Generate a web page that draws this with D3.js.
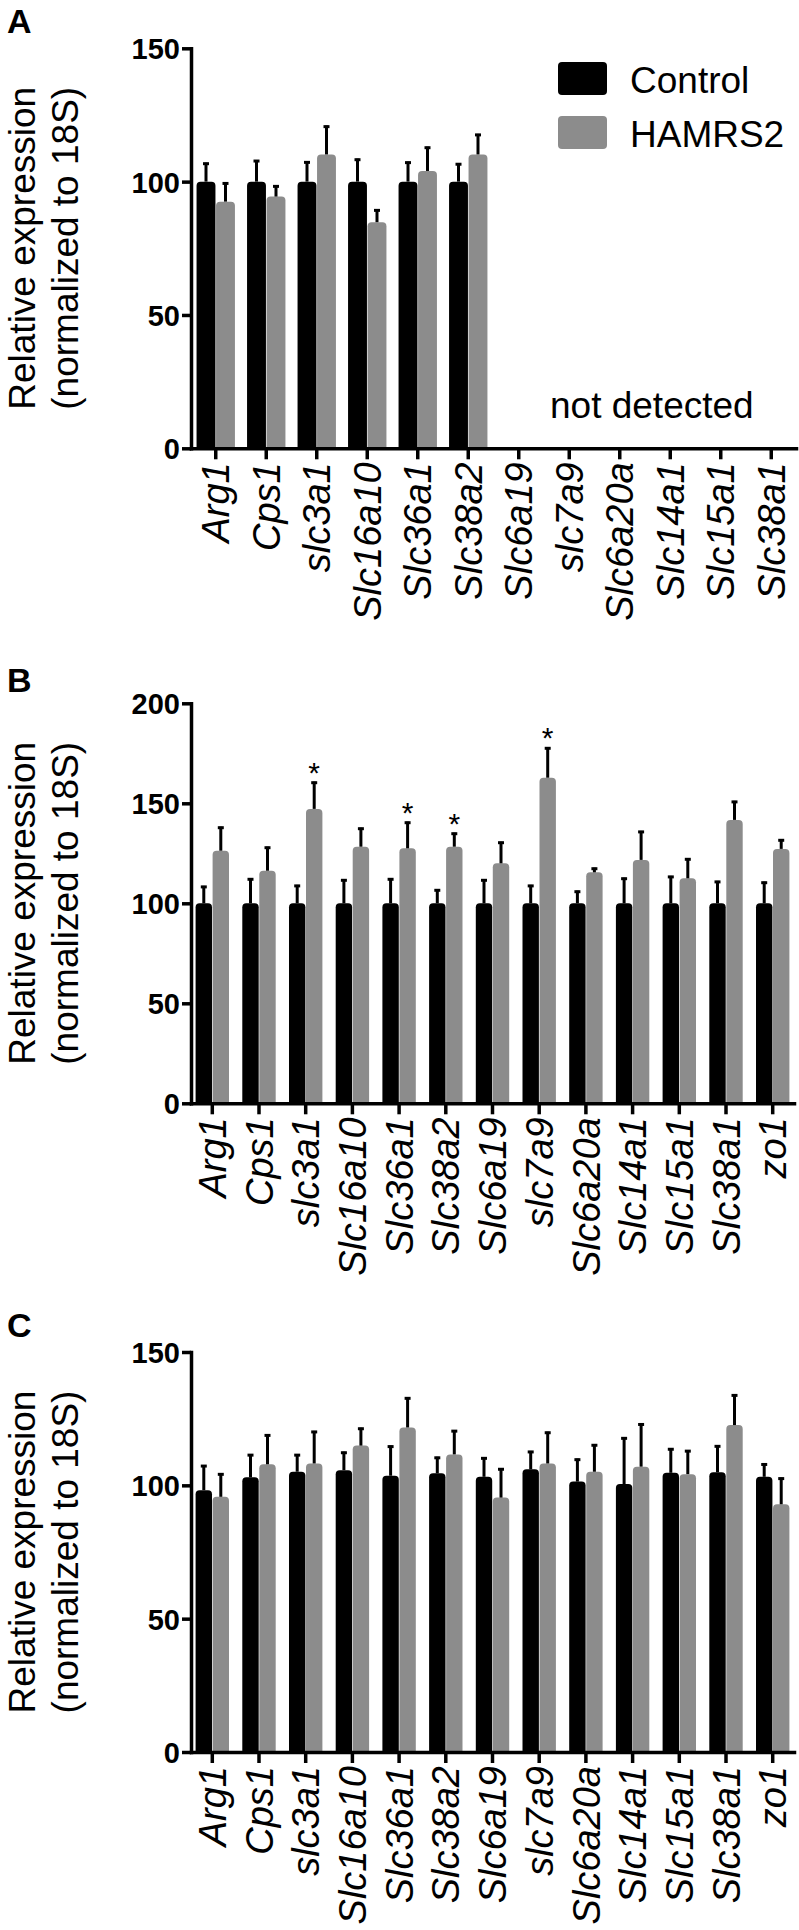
<!DOCTYPE html>
<html>
<head>
<meta charset="utf-8">
<script src="https://cdn.jsdelivr.net/npm/d3@7"></script>
<style>
  html, body { margin: 0; padding: 0; background: #fff; }
  svg { display: block; }
  text { font-family: "Liberation Sans", Arial, Helvetica, sans-serif; fill: #000; }
</style>
</head>
<body>
<svg id="chart" width="799" height="1930"></svg>
<script>
// ---------- DATA ----------
const seriesNames = ["Control", "HAMRS2"];

const catsA = ["Arg1", "Cps1", "slc3a1", "Slc16a10", "Slc36a1", "Slc38a2", "Slc6a19", "slc7a9", "Slc6a20a", "Slc14a1", "Slc15a1", "Slc38a1"];
const ctrlA    = [100, 100, 100, 100, 100, 100, null, null, null, null, null, null];
const ctrlErrA = [7.1, 8.1, 7.6, 8.6, 7.5, 6.9, null, null, null, null, null, null];
const hamA     = [92.5, 94.4, 110.2, 84.8, 104.0, 110.2, null, null, null, null, null, null];
const hamErrA  = [7.2, 4.2, 10.8, 4.8, 9.1, 7.7, null, null, null, null, null, null];
const ticksA = [0, 50, 100, 150];

const catsBC = ["Arg1", "Cps1", "slc3a1", "Slc16a10", "Slc36a1", "Slc38a2", "Slc6a19", "slc7a9", "Slc6a20a", "Slc14a1", "Slc15a1", "Slc38a1", "zo1"];
const ctrlB    = [100, 100, 100, 100, 100, 100, 100, 100, 100, 100, 100, 100, 100];
const ctrlErrB = [8.7, 12.5, 9.2, 12.0, 12.5, 7.0, 12.0, 9.2, 6.3, 12.8, 13.7, 11.2, 10.8];
const hamB     = [126.3, 116.3, 147.2, 128.3, 127.5, 128.3, 120.0, 162.8, 115.5, 121.7, 112.5, 141.7, 127.2];
const hamErrB  = [12.0, 12.0, 13.6, 9.5, 13.3, 7.0, 10.8, 15.2, 2.3, 14.5, 10.0, 9.5, 4.8];
const starB    = ["slc3a1", "Slc36a1", "Slc38a2", "slc7a9"];
const ticksB = [0, 50, 100, 150, 200];

const ctrlC    = [98.2, 103.0, 105.1, 105.7, 103.6, 104.5, 103.2, 106.0, 101.4, 100.5, 104.7, 104.9, 103.2];
const ctrlErrC = [9.4, 8.7, 6.6, 6.9, 11.3, 6.2, 7.3, 6.9, 8.6, 17.5, 9.2, 10.1, 5.0];
const hamC     = [95.7, 107.9, 108.2, 114.9, 121.7, 111.6, 95.4, 108.2, 105.1, 107.0, 104.2, 122.6, 92.9];
const hamErrC  = [8.8, 11.2, 12.2, 6.7, 11.3, 9.1, 11.0, 11.9, 10.3, 16.2, 9.0, 11.5, 10.0];
const ticksC = [0, 50, 100, 150];

const yTitle1 = "Relative expression";
const yTitle2 = "(normalized to 18S)";
const notDetectedText = "not detected";

// ---------- STYLE ----------
const colors = { Control: "#000000", HAMRS2: "#8c8c8c" };
const svg = d3.select("#chart");
svg.append("rect").attr("width", 799).attr("height", 1930).attr("fill", "#fff");

const AXIS_X = 191;
const AXIS_W = 3.5;

function barPath(x, y, w, h, r) {
  r = Math.min(r, w / 2, h);
  return `M${x},${y + h}V${y + r}Q${x},${y} ${x + r},${y}H${x + w - r}Q${x + w},${y} ${x + w},${y + r}V${y + h}Z`;
}

function drawPanel(p) {
  const g = svg.append("g");
  const y = d3.scaleLinear().domain(p.yDomain).range([p.yBot, p.yTop]);
  const x0 = d3.scaleBand().domain(p.cats).range([AXIS_X, p.xEnd])
    .paddingInner(p.padInner).paddingOuter(p.padOuter);
  const x1 = d3.scaleBand().domain(seriesNames).range([0, x0.bandwidth()]).padding(0);

  // rows
  const rows = p.cats.map((c, i) => ({
    cat: c,
    vals: [
      { s: "Control", v: p.ctrl[i], e: p.ctrlErr[i] },
      { s: "HAMRS2", v: p.ham[i], e: p.hamErr[i] }
    ].filter(d => d.v != null)
  }));

  const grp = g.selectAll(".grp").data(rows).join("g")
    .attr("transform", d => `translate(${x0(d.cat)},0)`);

  grp.selectAll("path.bar").data(d => d.vals).join("path")
    .attr("class", "bar")
    .attr("fill", d => colors[d.s])
    .attr("d", d => barPath(x1(d.s) + 0.3, y(d.v), x1.bandwidth() - 0.6, y(0) - y(d.v), 4));

  // error bars
  grp.selectAll("line.err").data(d => d.vals).join("line")
    .attr("class", "err")
    .attr("x1", d => x1(d.s) + x1.bandwidth() / 2)
    .attr("x2", d => x1(d.s) + x1.bandwidth() / 2)
    .attr("y1", d => y(d.v))
    .attr("y2", d => y(d.v + d.e))
    .attr("stroke", "#000").attr("stroke-width", 3);
  grp.selectAll("line.cap").data(d => d.vals).join("line")
    .attr("class", "cap")
    .attr("x1", d => x1(d.s) + x1.bandwidth() / 2 - 3)
    .attr("x2", d => x1(d.s) + x1.bandwidth() / 2 + 3)
    .attr("y1", d => y(d.v + d.e) + 1)
    .attr("y2", d => y(d.v + d.e) + 1)
    .attr("stroke", "#000").attr("stroke-width", 3);

  // significance stars
  if (p.stars) {
    grp.filter(d => p.stars.includes(d.cat)).selectAll("text.star")
      .data(d => d.vals.filter(v => v.s === "HAMRS2")).join("text")
      .attr("class", "star")
      .attr("x", d => x1(d.s) + x1.bandwidth() / 2)
      .attr("y", d => y(d.v + d.e) + 1)
      .attr("text-anchor", "middle")
      .style("font-size", "30px")
      .text("*");
  }

  // y axis
  const yAxis = g.append("g").attr("transform", `translate(${AXIS_X},0)`)
    .call(d3.axisLeft(y).tickValues(p.ticks).tickSize(9).tickSizeOuter(0).tickPadding(2).tickFormat(d3.format("d")));
  yAxis.select(".domain").attr("stroke-width", AXIS_W).attr("stroke-linecap", "square");
  yAxis.selectAll(".tick line").attr("stroke-width", AXIS_W);
  yAxis.selectAll(".tick text").style("font-size", "29px").style("font-weight", "bold").attr("dy", "0.36em");

  // x axis
  const xAxis = g.append("g").attr("transform", `translate(0,${p.yBot})`)
    .call(d3.axisBottom(x0).tickSize(11).tickSizeOuter(0));
  xAxis.select(".domain").attr("stroke-width", AXIS_W).attr("stroke-linecap", "square");
  xAxis.selectAll(".tick line").attr("stroke-width", AXIS_W);
  xAxis.selectAll(".tick text")
    .attr("transform", "rotate(-90)")
    .attr("x", -14).attr("y", 0).attr("dy", "0.36em")
    .attr("text-anchor", "end")
    .style("font-size", "38px").style("font-style", "italic");

  // y title
  const cy = (p.yTop + p.yBot) / 2;
  g.append("text").attr("transform", `translate(35,${cy}) rotate(-90)`)
    .attr("text-anchor", "middle").style("font-size", "37px").text(yTitle1);
  g.append("text").attr("transform", `translate(78,${cy}) rotate(-90)`)
    .attr("text-anchor", "middle").style("font-size", "37px").text(yTitle2);

  // panel letter
  g.append("text").attr("x", 7).attr("y", p.letterY)
    .style("font-size", "34px").style("font-weight", "bold").text(p.letter);

  return { g, x0, y };
}

// Panel A
const pa = drawPanel({
  letter: "A", letterY: 33,
  cats: catsA, ctrl: ctrlA, ctrlErr: ctrlErrA, ham: hamA, hamErr: hamErrA,
  yDomain: [0, 150], ticks: ticksA, yTop: 48.3, yBot: 448.3,
  xEnd: 796, padInner: 0.228, padOuter: 0.104
});
// legend in A
const legend = pa.g.append("g");
seriesNames.forEach((s, i) => {
  legend.append("rect").attr("x", 558).attr("y", 62 + i * 54).attr("width", 49).attr("height", 33)
    .attr("rx", 4).attr("fill", colors[s]);
  legend.append("text").attr("x", 630).attr("y", 93 + i * 54).style("font-size", "37px").text(s);
});
pa.g.append("text").attr("x", 550).attr("y", 418).style("font-size", "37px").text(notDetectedText);

// Panel B
drawPanel({
  letter: "B", letterY: 692,
  cats: catsBC, ctrl: ctrlB, ctrlErr: ctrlErrB, ham: hamB, hamErr: hamErrB, stars: starB,
  yDomain: [0, 200], ticks: ticksB, yTop: 703.3, yBot: 1103.3,
  xEnd: 794, padInner: 0.272, padOuter: 0.092
});

// Panel C
drawPanel({
  letter: "C", letterY: 1337,
  cats: catsBC, ctrl: ctrlC, ctrlErr: ctrlErrC, ham: hamC, hamErr: hamErrC,
  yDomain: [0, 150], ticks: ticksC, yTop: 1352, yBot: 1752,
  xEnd: 794, padInner: 0.272, padOuter: 0.092
});
</script>
</body>
</html>
